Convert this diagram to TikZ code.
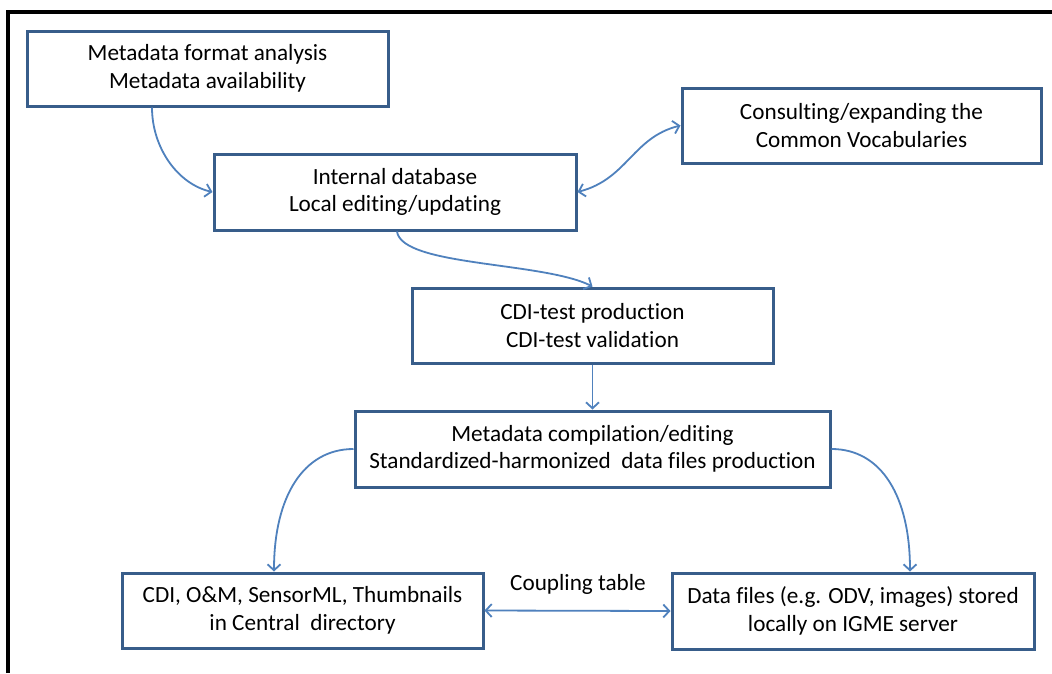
\documentclass[tikz,border=0pt]{standalone}
\usepackage{fontspec}
\setmainfont{Carlito}[Ligatures=NoCommon]
\usetikzlibrary{arrows.meta}
\definecolor{boxblue}{HTML}{385D8A}
\definecolor{arrblue}{HTML}{4F81BD}
\begin{document}
\begin{tikzpicture}[x=1pt,y=-1pt,
  stepbox/.style={draw=boxblue,line width=3pt,fill=white,align=center,
    font=\fontsize{23.2}{27.5}\selectfont,inner sep=0pt},
  arr/.style={draw=arrblue,line width=1.8pt,-{Straight Barb[length=6pt,width=13pt]}},
  darr/.style={draw=arrblue,line width=1.8pt,{Straight Barb[length=6pt,width=13pt]}-{Straight Barb[length=6pt,width=13pt]}},
  lbl/.style={font=\fontsize{23.2}{27.5}\selectfont,inner sep=0pt}]
\useasboundingbox (0,0) rectangle (1052,673);
\fill[white] (0,0) rectangle (1052,673);
% frame (top and left edges)
\draw[black,line width=3.2pt] (8,673) -- (8,12) -- (1052,12);

\node[stepbox,minimum width=361pt,minimum height=75pt] (b1) at (207.5,68.5)
  {Metadata format analysis\\Metadata availability};
\node[stepbox,minimum width=362pt,minimum height=76pt] (b2) at (395,192)
  {Internal database\\Local editing/updating};
\node[stepbox,minimum width=359pt,minimum height=75pt] (bc) at (861.5,125.5)
  {Consulting/expanding the\\Common Vocabularies};
\node[stepbox,minimum width=361pt,minimum height=75pt] (b3) at (592.5,325.5)
  {CDI-test production\\CDI-test validation};
\node[stepbox,minimum width=475pt,minimum height=76pt] (b4) at (592.5,449)
  {Metadata compilation/editing\\Standardized-harmonized~ data files production};
\node[stepbox,minimum width=361pt,minimum height=75pt] (b5) at (302.5,610.5)
  {CDI, O\&M, SensorML, Thumbnails\\in Central~ directory};
\node[stepbox,minimum width=362pt,minimum height=76pt] (b6) at (853,611)
  {Data files (e.g. ODV, images) stored\\locally on IGME server};
\node[lbl] (cpl) at (578,584) {Coupling table};

\draw[arr] ([xshift=-55.5pt]b1.south) .. controls +(0,40) and +(-35,-8) .. (b2.west);
\draw[darr] (b2.east) .. controls +(50,-13) and +(-48,12) .. (bc.west);
\draw[arr] ([xshift=2pt]b2.south) .. controls +(5,35) and +(-50,-25) .. (b3.north);
\draw[arr] (b3.south) -- (b4.north);
\draw[arr] (b4.west) .. controls +(-50,0) and +(0,-75) .. ([xshift=-28.5pt]b5.north);
\draw[arr] (b4.east) .. controls +(50,0) and +(0,-75) .. ([xshift=57pt]b6.north);
\draw[darr] (b5.east) -- (b6.west);
\end{tikzpicture}
\end{document}
